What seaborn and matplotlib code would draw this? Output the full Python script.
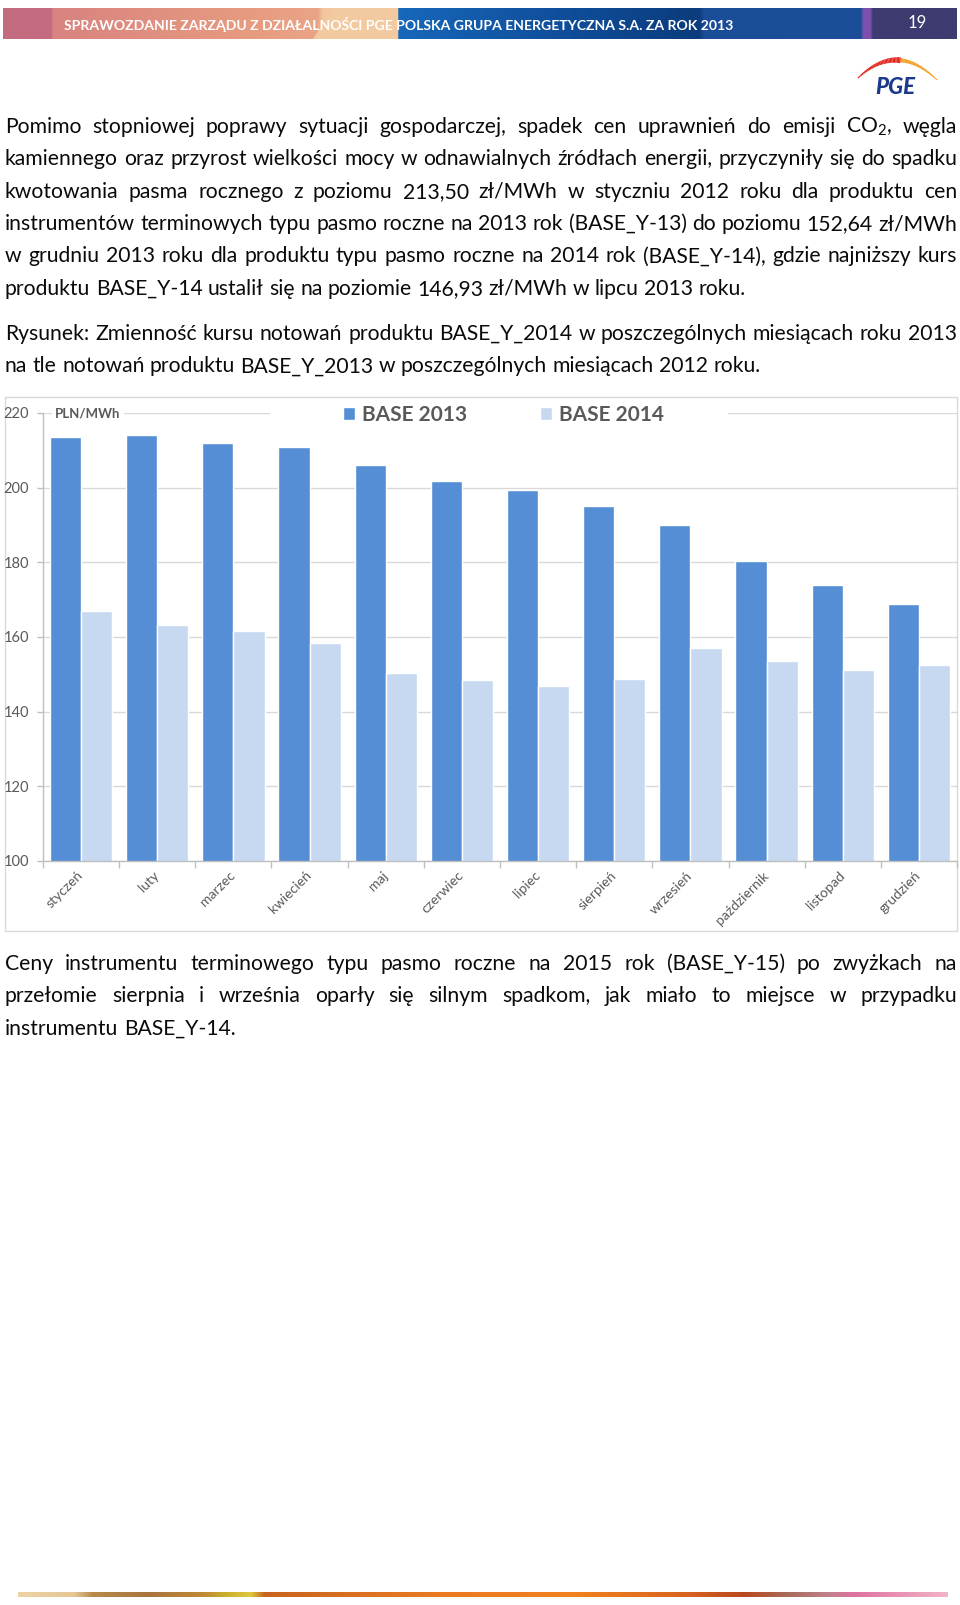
import numpy as np
import pandas as pd
import seaborn as sns
import matplotlib.pyplot as plt
from matplotlib.patches import Rectangle, Polygon
from matplotlib.collections import LineCollection
from matplotlib.colors import to_rgb

# =========================
# DATA
# =========================

months = ["styczeń", "luty", "marzec", "kwiecień", "maj", "czerwiec",
          "lipiec", "sierpień", "wrzesień", "październik", "listopad", "grudzień"]
base_2013 = [213.5, 214.0, 212.0, 210.9, 206.0, 201.8, 199.4, 195.2, 190.0, 180.4, 173.8, 168.8]
base_2014 = [166.9, 163.3, 161.6, 158.3, 150.4, 148.4, 146.9, 148.7, 157.0, 153.7, 151.2, 152.6]
series_names = ["BASE 2013", "BASE 2014"]
series_colors = ["#558ED5", "#C6D9F1"]
y_ticks = [100, 120, 140, 160, 180, 200, 220]
unit_label = "PLN/MWh"

header_text = "SPRAWOZDANIE ZARZĄDU Z DZIAŁALNOŚCI PGE POLSKA GRUPA ENERGETYCZNA S.A. ZA ROK 2013"
page_no = "19"

para1 = [
    "Pomimo stopniowej poprawy sytuacji gospodarczej, spadek cen uprawnień do emisji CO$_2$, węgla",
    "kamiennego oraz przyrost wielkości mocy w odnawialnych źródłach energii, przyczyniły się do spadku",
    "kwotowania pasma rocznego z poziomu 213,50 zł/MWh w styczniu 2012 roku dla produktu cen",
    "instrumentów terminowych typu pasmo roczne na 2013 rok (BASE_Y-13) do poziomu 152,64 zł/MWh",
    "w grudniu 2013 roku dla produktu typu pasmo roczne na 2014 rok (BASE_Y-14), gdzie najniższy kurs",
    "produktu BASE_Y-14 ustalił się na poziomie 146,93 zł/MWh w lipcu 2013 roku.",
]
caption = [
    "Rysunek: Zmienność kursu notowań produktu BASE_Y_2014 w poszczególnych miesiącach roku 2013",
    "na tle notowań produktu BASE_Y_2013 w poszczególnych miesiącach 2012 roku.",
]
para2 = [
    "Ceny instrumentu terminowego typu pasmo roczne na 2015 rok (BASE_Y-15) po zwyżkach na",
    "przełomie sierpnia i września oparły się silnym spadkom, jak miało to miejsce w przypadku",
    "instrumentu BASE_Y-14.",
]

df = pd.DataFrame({
    "miesiac": months * 2,
    "seria": [series_names[0]] * 12 + [series_names[1]] * 12,
    "cena": base_2013 + base_2014,
})

# =========================
# STYLE
# =========================

sns.set_theme(style="white")
plt.rcParams["font.family"] = ["Lato", "DejaVu Sans"]
plt.rcParams["mathtext.fontset"] = "custom"
plt.rcParams["mathtext.rm"] = "Lato"
plt.rcParams["mathtext.default"] = "regular"

W, H = 960, 1605
GRAY_TXT = "#595959"
AXIS_GRAY = "#bfbfbf"
TXT = "#0a0a0a"

fig = plt.figure(figsize=(W / 100, H / 100), dpi=100)
page = fig.add_axes([0, 0, 1, 1])
page.axis("off")
renderer = fig.canvas.get_renderer()


def gradient(stops, n=960):
    xs = np.linspace(0, 1, n)
    pos = [s[0] for s in stops]
    cols = np.array([to_rgb(s[1]) for s in stops])
    return np.stack([np.interp(xs, pos, cols[:, k]) for k in range(3)], axis=-1)[None, :, :]


# header bar
head = gradient([(0.0, "#c46b80"), (0.05, "#c46b80"), (0.052, "#d8837f"), (0.25, "#e69a80"),
                 (0.33, "#eaa486"), (0.335, "#f2c69e"), (0.413, "#f5cfa6"), (0.415, "#1767ba"),
                 (0.6, "#0f4c98"), (0.73, "#0b3c7c"), (0.735, "#1a4c98"), (0.9, "#1d4e99"),
                 (0.902, "#7d50ad"), (0.91, "#7d50ad"), (0.912, "#3d3b70"), (1.0, "#3d3b70")])
page.imshow(head, extent=(3, 957, 39, 8), aspect="auto", zorder=1)
page.add_patch(Polygon([(313, 39), (333, 8), (398, 8), (398, 39)], closed=True,
                       facecolor="#f3c9a0", edgecolor="none", zorder=2))

t = page.text(0, 0, header_text, fontsize=10, fontweight="bold")
hsize = 10 * 671 / t.get_window_extent(renderer).width
t.remove()
page.text(64, 24, header_text, fontsize=hsize, fontweight="bold", color="white",
          va="center", ha="left", zorder=3)
page.text(917, 23, page_no, fontsize=12, color="white", va="center", ha="center", zorder=3)

# logo
tt = np.linspace(0, 1, 60)
p0, p1, p2 = np.array([858, 78]), np.array([897, 41]), np.array([937, 80])
pts = ((1 - tt) ** 2)[:, None] * p0 + (2 * (1 - tt) * tt)[:, None] * p1 + (tt ** 2)[:, None] * p2
segs = np.stack([pts[:-1], pts[1:]], axis=1)
mid = (tt[:-1] + tt[1:]) / 2
seg_cols = ["#e2231a" if m < 0.55 else "#f29b1f" for m in mid]
seg_w = np.where(mid < 0.55, 0.8 + 3.6 * mid / 0.55, 3.0 - 2.3 * (mid - 0.55) / 0.45)
page.add_collection(LineCollection(segs, colors=seg_cols, linewidths=seg_w,
                                   capstyle="butt", zorder=3))
page.text(895, 88, "PGE", fontsize=16, fontweight="black", style="italic",
          color="#1b3a8c", ha="center", va="center", zorder=3)

# body text
TEXT_L, TEXT_R = 5, 957
t = page.text(0, 0, para1[1], fontsize=10)
BODY = 10 * 945 / t.get_window_extent(renderer).width
t.remove()
t1 = page.text(0, 0, "xx", fontsize=BODY)
t2 = page.text(0, 0, "x x", fontsize=BODY)
space_w = t2.get_window_extent(renderer).width - t1.get_window_extent(renderer).width
t1.remove()
t2.remove()


def place_line(line, y, justify):
    words = line.split(" ")
    items = [page.text(0, y, w, fontsize=BODY, color=TXT, va="baseline", ha="left")
             for w in words]
    widths = [it.get_window_extent(renderer).width for it in items]
    if justify and len(words) > 1:
        gap = (TEXT_R - TEXT_L - sum(widths)) / (len(words) - 1)
    else:
        gap = space_w
    x = TEXT_L
    for it, w in zip(items, widths):
        it.set_x(x)
        x += w + gap


def place_para(lines, y0, step=32.35):
    for i, line in enumerate(lines):
        place_line(line, y0 + i * step, i < len(lines) - 1)


place_para(para1, 133)
place_para(caption, 340)
place_para(para2, 970)

# chart frame
page.add_patch(Rectangle((5, 397), 952, 534, fill=False, edgecolor="#d9d9d9", lw=1, zorder=1))

# footer line
foot = gradient([(0.0, "#ecd3a6"), (0.06, "#e6c794"), (0.08, "#b88a4a"), (0.14, "#a9743f"),
                 (0.2, "#c08a35"), (0.22, "#c9ab2a"), (0.25, "#e0c840"), (0.265, "#c7641f"),
                 (0.45, "#ea7a22"), (0.6, "#f0821e"), (0.72, "#d8621f"), (0.78, "#b8481c"),
                 (0.83, "#a86c5c"), (0.87, "#c0808a"), (0.9, "#e072a0"), (1.0, "#f2b4c8")])
page.imshow(foot, extent=(18, 948, 1597, 1592), aspect="auto", zorder=1)

page.set_xlim(0, W)
page.set_ylim(H, 0)

# =========================
# CHART
# =========================

ax = fig.add_axes([43 / W, 1 - 861 / H, (957 - 43) / W, (861 - 413) / H])
ax.set_facecolor("none")
sns.barplot(data=df, x="miesiac", y="cena", hue="seria", palette=series_colors,
            width=0.82, saturation=1, ax=ax, zorder=2)

ax.set_ylim(100, 220)
ax.set_xlim(-0.5, len(months) - 0.5)
ax.set_yticks(y_ticks)
ax.set_xlabel("")
ax.set_ylabel("")
ax.grid(axis="y", color="#d9d9d9", lw=1)
ax.set_axisbelow(True)
for s in ["top", "right"]:
    ax.spines[s].set_visible(False)
for s in ["left", "bottom"]:
    ax.spines[s].set_color(AXIS_GRAY)
    ax.spines[s].set_linewidth(1)

ax.tick_params(axis="y", length=4, width=1, color=AXIS_GRAY, labelsize=10.5,
               labelcolor=GRAY_TXT, pad=6, left=True)
ax.set_xticks(np.arange(-0.5, len(months), 1), minor=True)
ax.tick_params(axis="x", which="minor", length=5, width=1, color=AXIS_GRAY, bottom=True)
ax.tick_params(axis="x", which="major", length=0, labelsize=10, labelcolor=GRAY_TXT, pad=9)
ax.set_xticks(range(len(months)))
ax.set_xticklabels(months, rotation=45, ha="right", va="center", rotation_mode="anchor")

# gap in the top gridline behind the legend
ax.add_patch(Rectangle((270 / W, 1 - 418 / H), (728 - 270) / W, 10 / H, transform=fig.transFigure,
                       facecolor="white", edgecolor="none", clip_on=False, zorder=3))
ax.text(55 / W, 1 - 413 / H, unit_label, transform=fig.transFigure, fontsize=9.5,
        fontweight="bold", color=GRAY_TXT, ha="left", va="center", zorder=4,
        bbox=dict(facecolor="white", edgecolor="none", pad=2.5))

handles, labels = ax.get_legend_handles_labels()
ax.legend(handles, labels, ncol=2, loc="center left", bbox_to_anchor=(343 / W, 1 - 415 / H),
          bbox_transform=fig.transFigure, frameon=False, borderpad=0, borderaxespad=0,
          handlelength=0.58, handleheight=0.58, handletextpad=0.34, columnspacing=3.5,
          prop={"weight": "bold", "size": 15}, labelcolor=GRAY_TXT)

fig.savefig("out.png", dpi=100)
